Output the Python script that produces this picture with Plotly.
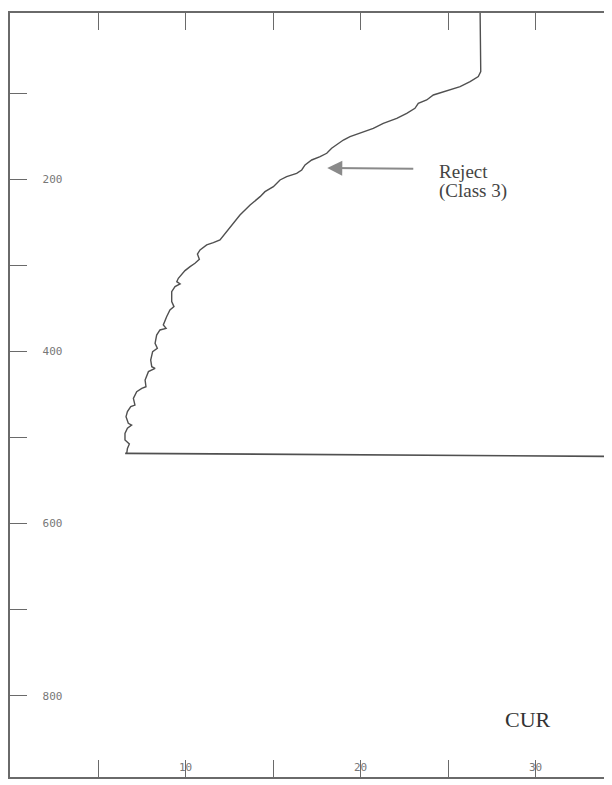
import plotly.graph_objects as go

# Current profile (CUR) vs depth
cur = [26.83, 26.83, 26.87, 26.73, 26.26, 25.69, 25.11, 24.54, 24.16, 23.78,
       23.30, 23.11, 22.64, 22.07, 21.30, 20.73, 19.97, 19.40, 19.02, 18.64,
       18.35, 18.07, 17.69, 17.21, 16.83, 16.64, 16.35, 15.78, 15.40, 15.02,
       14.54, 14.26, 13.88, 13.69, 13.11, 12.54, 11.97, 11.59, 11.21, 10.83,
       10.68, 10.79, 10.54, 10.26, 9.97, 9.59, 9.50, 9.69, 9.40, 9.21,
       9.21, 9.34, 9.11, 8.92, 8.73, 8.89, 8.54, 8.35, 8.26, 8.39,
       8.12, 8.01, 8.07, 8.26, 7.88, 7.69, 7.74, 7.50, 7.21, 7.02,
       7.11, 6.87, 6.68, 6.60, 6.73, 6.92, 6.68, 6.54, 6.54, 6.79,
       6.68, 6.64]
depth = [0.0, 61.6, 75.1, 80.9, 86.7, 92.5, 96.4, 100.3, 102.2, 108.0,
         111.9, 117.7, 123.5, 129.3, 135.1, 140.9, 146.7, 150.6, 154.5, 160.3,
         164.1, 169.9, 173.9, 177.7, 183.5, 189.3, 193.2, 197.1, 200.9, 208.7,
         214.5, 220.3, 226.1, 230.0, 241.6, 256.7, 270.6, 273.7, 276.4, 282.2,
         286.9, 293.1, 297.7, 301.6, 306.2, 315.1, 319.0, 321.7, 324.8, 330.6,
         342.2, 348.0, 351.9, 359.7, 369.3, 373.2, 375.1, 381.0, 390.6, 396.4,
         400.3, 410.0, 417.8, 419.7, 423.5, 433.2, 441.0, 442.9, 446.8, 454.5,
         462.3, 464.2, 470.0, 475.8, 483.5, 485.5, 489.3, 495.2, 502.9, 507.6,
         512.6, 518.4]

# Horizontal line at the bottom of the profile
floor_cur = [6.55, 34.4]
floor_depth = [518.4, 522.0]

x_tickvals = [5, 10, 15, 20, 25, 30, 35]
x_ticktext = ["", "10", "", "20", "", "30", ""]
y_tickvals = [100, 200, 300, 400, 500, 600, 700, 800]
y_ticktext = ["", "200", "", "400", "", "600", "", "800"]

line_col = "#505050"
axis_col = "#6a6a6a"

fig = go.Figure()
fig.add_trace(go.Scatter(x=cur, y=depth, mode="lines",
                         line=dict(color=line_col, width=1.4), hoverinfo="skip"))
fig.add_trace(go.Scatter(x=floor_cur, y=floor_depth, mode="lines",
                         line=dict(color=line_col, width=1.6), hoverinfo="skip"))

# page body has an 8px default margin, so the figure is 604x777
fig.update_layout(
    width=604, height=777,
    margin=dict(l=2, r=0, t=5, b=8, pad=0),
    paper_bgcolor="white", plot_bgcolor="white",
    showlegend=False,
    xaxis=dict(
        range=[-0.03, 34.37], showgrid=False, zeroline=False,
        showline=True, linecolor=axis_col, linewidth=1.5, mirror="ticks",
        ticks="inside", ticklen=17, tickcolor=axis_col, tickwidth=1.2,
        tickvals=x_tickvals, ticktext=x_ticktext,
        ticklabelposition="inside", ticklabelstandoff=-14,
        tickfont=dict(family="DejaVu Sans Mono", size=11, color="#777777"),
    ),
    yaxis=dict(
        range=[894.3, 7.0], showgrid=False, zeroline=False,
        showline=True, linecolor=axis_col, linewidth=1.5,
        ticks="inside", ticklen=17, tickcolor=axis_col, tickwidth=1.2,
        tickvals=y_tickvals, ticktext=y_ticktext,
        ticklabelposition="inside", ticklabelstandoff=15,
        tickfont=dict(family="DejaVu Sans Mono", size=11, color="#777777"),
    ),
    annotations=[
        dict(x=18.1, y=187, ax=23.1, ay=188, xref="x", yref="y",
             axref="x", ayref="y", text="", showarrow=True,
             arrowhead=2, arrowsize=1.5, arrowwidth=2, arrowcolor="#8a8a8a"),
        dict(x=24.37, y=191, xref="x", yref="y", text="Reject",
             showarrow=False, xanchor="left", yanchor="middle",
             font=dict(family="Liberation Serif", size=19, color="#444444")),
        dict(x=24.37, y=214, xref="x", yref="y", text="(Class 3)",
             showarrow=False, xanchor="left", yanchor="middle",
             font=dict(family="Liberation Serif", size=19, color="#444444")),
        dict(x=29.57, y=828, xref="x", yref="y", text="CUR",
             showarrow=False, xanchor="center", yanchor="middle",
             font=dict(family="Liberation Serif", size=22, color="#333333")),
    ],
)

fig.write_html("out.html")
